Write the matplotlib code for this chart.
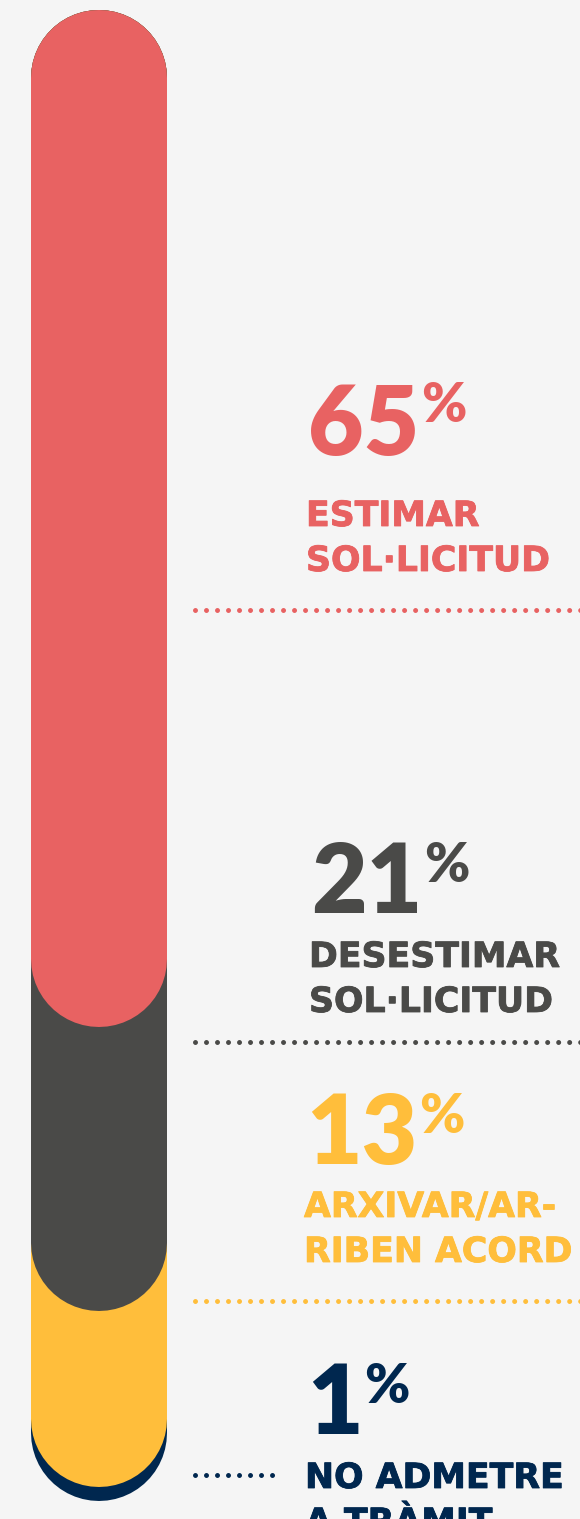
import matplotlib.pyplot as plt
import matplotlib.patheffects as pe

# share of each resolution (top to bottom of the bar)
categories = ["ESTIMAR\nSOL·LICITUD", "DESESTIMAR\nSOL·LICITUD",
              "ARXIVAR/AR-\nRIBEN ACORD", "NO ADMETRE\nA TRÀMIT"]
percentages = [65, 21, 13, 1]
colors = ["#E86262", "#4A4A48", "#FFBE3B", "#00274F"]

# layout in pixels (figure is 580 x 1519)
W, H = 580, 1519
BG = "#F5F5F5"
bar_x = 99
bar_w = 136          # px
bar_top = 10 + bar_w / 2
px_per_pct = 13.55

text_x = [307, 310, 305, 306]
num_base = [455, 913, 1164, 1434]
pct_base = [422, 882, 1133, 1403]
label_base = [526, 967, 1217, 1488]
line_pitch = 45
sep_y = [610, 1042, 1301, 1475]
sep_x = [(195, 585), (195, 585), (195, 585), (195, 278)]

PX = 72 / 100  # px -> pt

fig = plt.figure(figsize=(W / 100, H / 100), dpi=100, facecolor=BG)

# bar axes: y in percent, scaled so the pill ends follow the cumulative shares
bax = fig.add_axes([0, 0, 1, 1])
bax.set_xlim(0, W)
bax.set_ylim((H - bar_top) / px_per_pct, -bar_top / px_per_pct)
bax.axis("off")
bax.patch.set_alpha(0)

cum = []
total = 0
for p in percentages:
    total += p
    cum.append(total)

for i in reversed(range(len(percentages))):
    bax.plot([bar_x, bar_x], [0, cum[i]], color=colors[i],
             lw=bar_w * PX, solid_capstyle="round")

# text / separator axes in pixel coords
ax = fig.add_axes([0, 0, 1, 1])
ax.set_xlim(0, W)
ax.set_ylim(H, 0)
ax.axis("off")
ax.patch.set_alpha(0)

for i, cat in enumerate(categories):
    c = colors[i]
    num = ax.text(text_x[i] + 1, num_base[i], str(percentages[i]), color=c,
                  fontsize=69, fontfamily="Lato", fontweight="heavy",
                  ha="left", va="baseline")
    ax.annotate("%", xy=(1.0, pct_base[i]), xycoords=(num, "data"),
                xytext=(1, 0), textcoords="offset points",
                color=c, fontsize=39, fontfamily="Lato", fontweight="heavy",
                ha="left", va="baseline")
    for j, line in enumerate(cat.split("\n")):
        ax.text(text_x[i] - 1, label_base[i] + j * line_pitch, line, color=c,
                fontsize=25, fontfamily="DejaVu Sans", fontweight="bold",
                ha="left", va="baseline", clip_on=False,
                path_effects=[pe.withStroke(linewidth=0.6, foreground=c)])
    ax.plot(sep_x[i], [sep_y[i], sep_y[i]], color=c, lw=5 * PX,
            linestyle=(0, (0.001, 2.2)), dash_capstyle="round")

fig.savefig("out.png", dpi=100, facecolor=BG)
